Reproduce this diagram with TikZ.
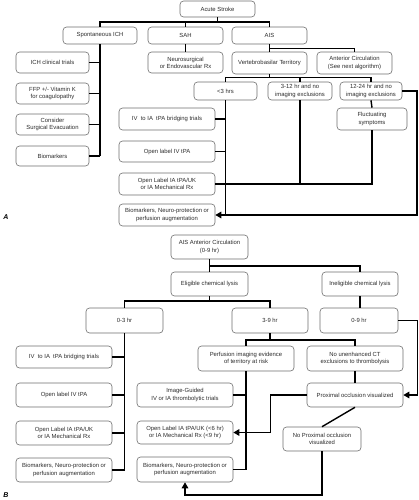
\documentclass[tikz,border=0pt]{standalone}
\usepackage{fontspec}
\setmainfont{Liberation Sans}
\usetikzlibrary{arrows.meta,calc}
\definecolor{boxline}{RGB}{110,110,110}
\definecolor{txt}{RGB}{45,45,45}
\begin{document}
\begin{tikzpicture}[x=1pt,y=-1pt,
  box/.style={draw=boxline,line width=0.6pt,rounded corners=3.5pt,fill=white,
    align=center,inner sep=0pt,text=txt,font=\fontsize{5.9}{7.2}\selectfont},
  conn/.style={line width=1.4pt,black},
  arr/.style={conn,-{Triangle[length=6pt,width=6.5pt]}},
  lab/.style={font=\fontsize{7}{8}\selectfont\bfseries\itshape}]
\useasboundingbox (0,0) rectangle (418,500);
% ---------- Panel A ----------
\node[box,minimum width=75pt,minimum height=16pt] (acute) at (217.5,9) {Acute Stroke};
\node[box,minimum width=74pt,minimum height=17pt] (ich) at (100,35.5) {Spontaneous ICH};
\node[box,minimum width=75pt,minimum height=17pt] (sah) at (185.5,35.5) {SAH};
\node[box,minimum width=75pt,minimum height=17pt] (ais) at (269.5,35.5) {AIS};
\node[box,minimum width=75pt,minimum height=21pt] (neuro) at (185.5,62.5) {Neurosurgical\\or Endovascular Rx};
\node[box,minimum width=75pt,minimum height=22pt] (vb) at (269.5,63) {Vertebrobasilar Territory};
\node[box,minimum width=75pt,minimum height=22pt] (ant) at (354.5,63) {Anterior Circulation\\(See next algorithm)};
\node[box,minimum width=73pt,minimum height=21pt] (ichtr) at (52.5,62.5) {ICH clinical trials};
\node[box,minimum width=73pt,minimum height=21pt] (ffp) at (52.5,93.5) {FFP +/- Vitamin K\\for coagulopathy};
\node[box,minimum width=73pt,minimum height=21pt] (surg) at (52.5,124.5) {Consider\\Surgical Evacuation};
\node[box,minimum width=73pt,minimum height=20pt] (biomI) at (52.5,156) {Biomarkers};
\node[box,minimum width=63pt,minimum height=18pt] (lt3) at (225.5,91) {<3 hrs};
\node[box,minimum width=64pt,minimum height=18pt] (h312) at (300,91) {3-12 hr and no\\imaging exclusions};
\node[box,minimum width=62pt,minimum height=18pt] (h1224) at (371,91) {12-24 hr and no\\imaging exclusions};
\node[box,minimum width=70pt,minimum height=22pt] (fluct) at (372,119) {Fluctuating\\symptoms};
\node[box,minimum width=96pt,minimum height=22pt] (ivia) at (167,119) {IV~ to IA~ tPA bridging trials};
\node[box,minimum width=96pt,minimum height=21pt] (oplA) at (167,151.5) {Open label IV tPA};
\node[box,minimum width=96pt,minimum height=22pt] (oplIA) at (167,184) {Open Label IA tPA/UK\\or IA Mechanical Rx};
\node[box,minimum width=96pt,minimum height=22pt] (biomA) at (167,215) {Biomarkers, Neuro-protection or\\perfusion augmentation};
\node[lab] (labA) at (6,217) {A};
\coordinate (jA) at (217.5,22);
\coordinate (jB) at (269.5,48.5);
\coordinate (jC) at (269.5,77.5);
\draw[conn] (acute.south) -- (jA);
\draw[conn] (ich.north) |- (jA) -| (ais.north);
\draw[conn] (sah.north) -- (sah.north |- jA);
\draw[conn] (ich.south) -- (ich.south |- biomI.east);
\foreach \b in {ichtr,ffp,surg,biomI} \draw[conn] (\b.east) -- (\b.east -| ich.south);
\draw[conn] (sah.south) -- (neuro.north);
\draw[conn] (ais.south) -- (vb.north);
\draw[conn] (jB) -| (ant.north);
\draw[conn] (vb.south) -- (jC);
\draw[conn] (lt3.north) |- (jC) -| (h1224.north);
\draw[conn] (h312.north) -- (h312.north |- jC);
\draw[conn] (h1224.south) -- (fluct.north);
\draw[conn] (lt3.south) -- (lt3.south |- biomA.east);
\foreach \b in {ivia,oplA} \draw[conn] (\b.east) -- (\b.east -| lt3.south);
\draw[conn] (oplIA.east) -| (fluct.south);
\draw[conn] (h312.south) -- (h312.south |- oplIA.east);
\draw[arr] (h1224.east) -- ++(14.5,0) |- (biomA.east);
% ---------- Panel B ----------
\node[box,minimum width=77pt,minimum height=24pt] (aisB) at (209.5,247) {AIS Anterior Circulation\\(0-9 hr)};
\node[box,minimum width=77pt,minimum height=24pt] (elig) at (209.5,284) {Eligible chemical lysis};
\node[box,minimum width=76pt,minimum height=24pt] (inel) at (360,284) {Ineligible chemical lysis};
\node[box,minimum width=77pt,minimum height=25pt] (h03) at (124.5,320.5) {0-3 hr};
\node[box,minimum width=76pt,minimum height=25pt] (h39) at (270,320.5) {3-9 hr};
\node[box,minimum width=78pt,minimum height=25pt] (h09) at (359,320.5) {0-9 hr};
\node[box,minimum width=96pt,minimum height=25pt] (perf) at (246,358.5) {Perfusion imaging evidence\\of territory at risk};
\node[box,minimum width=96pt,minimum height=25pt] (nounenh) at (355,358.5) {No unenhanced CT\\exclusions to thrombolysis};
\node[box,minimum width=96pt,minimum height=24pt] (prox) at (355,395) {Proximal occlusion visualized};
\node[box,minimum width=96pt,minimum height=24pt] (imgg) at (185,395) {Image-Guided\\IV or IA thrombolytic trials};
\node[box,minimum width=96pt,minimum height=23pt] (oplB2) at (185,432.5) {Open Label IA tPA/UK (<6 hr)\\or IA Mechanical Rx (<9 hr)};
\node[box,minimum width=96pt,minimum height=25pt] (biomB2) at (185,469.5) {Biomarkers, Neuro-protection or\\perfusion augmentation};
\node[box,minimum width=78pt,minimum height=24pt] (noprox) at (322,439) {No Proximal occlusion\\visualized};
\node[box,minimum width=96pt,minimum height=22pt] (ivB) at (64,357) {IV~ to IA~ tPA bridging trials};
\node[box,minimum width=96pt,minimum height=24pt] (oplIVB) at (64,395) {Open label IV tPA};
\node[box,minimum width=96pt,minimum height=24pt] (oplIAB) at (64,433) {Open Label IA tPA/UK\\or IA Mechanical Rx};
\node[box,minimum width=96pt,minimum height=24pt] (biomB1) at (64,470) {Biomarkers, Neuro-protection or\\perfusion augmentation};
\node[lab] (labB) at (6,495) {B};
\coordinate (jD) at (209.5,266);
\coordinate (jE) at (209.5,301);
\coordinate (jF) at (270,340);
\coordinate (jG) at (322,495);
\draw[conn] (aisB.south) -- (elig.north);
\draw[conn] (jD) -| (inel.north);
\draw[conn] (elig.south) -- (jE);
\draw[conn] (h03.north) |- (jE) -| (h39.north);
\draw[conn] (inel.south) -- (inel.south |- h09.north);
\draw[arr] (h09.east) -- ++(19,0) |- (prox.east);
\draw[conn] (h39.south) -- (jF);
\draw[conn] (perf.north) |- (jF) -| (nounenh.north);
\draw[conn] (nounenh.south) -- (prox.north);
\draw[conn] (perf.south) -- (perf.south |- biomB2.east);
\foreach \b in {imgg,biomB2} \draw[conn] (\b.east) -- (\b.east -| perf.south);
\draw[arr] (prox.west) -- ++(-36,0) |- (oplB2.east);
\draw[conn] (prox.south) -- (noprox.north);
\draw[arr] (noprox.south) -- (jG) -| (biomB2.south);
\draw[conn] (h03.south) -- (h03.south |- biomB1.east);
\foreach \b in {ivB,oplIVB,oplIAB,biomB1} \draw[conn] (\b.east) -- (\b.east -| h03.south);
\end{tikzpicture}
\end{document}
